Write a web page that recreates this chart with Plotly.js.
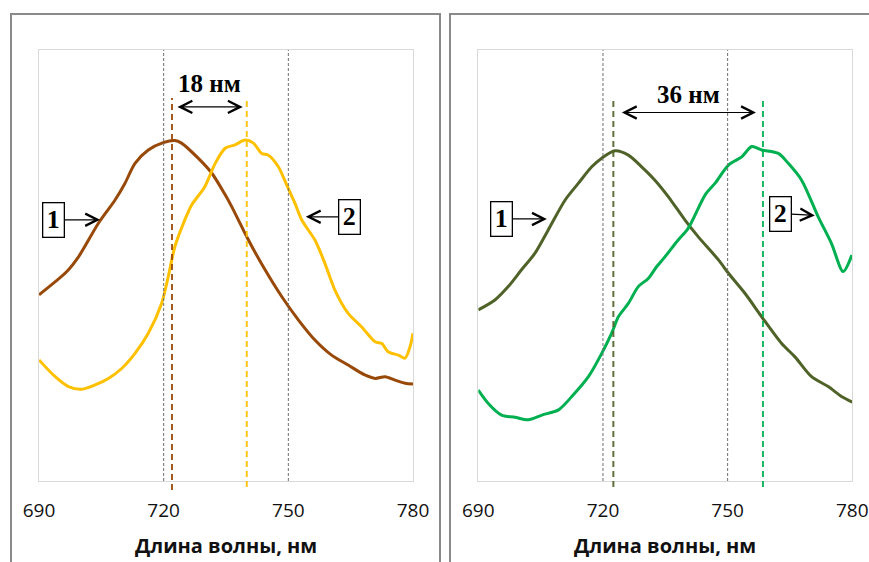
<!DOCTYPE html>
<html>
<head>
<meta charset="utf-8">
<script src="https://cdn.plot.ly/plotly-3.0.1.min.js"></script>
<style>
  html, body { margin: 0; padding: 0; background: #ffffff; }
  #chart { width: 869px; height: 562px; }
</style>
</head>
<body>
<div id="chart"></div>
<script>
// Wavelength axis
const xTicks = [690, 720, 750, 780];
const axisTitle = 'Длина волны, нм';

// Left panel: spectra 1 and 2 (relative intensity)
const leftWl1 = [690.0, 696.7, 699.5, 704.3, 708.3, 710.7, 713.1, 716.3, 719.9, 722.7, 724.3, 728.3, 731.6, 734.8, 736.4, 740.4, 744.4, 748.4, 752.4, 756.4, 760.4, 764.4, 768.4, 770.9, 773.3, 775.7, 778.1, 780.0];
const leftI1  = [43.2, 48.6, 52.0, 59.8, 65.2, 69.1, 73.7, 76.8, 78.5, 79.0, 78.4, 74.9, 71.4, 66.4, 63.6, 55.9, 49.0, 42.8, 37.4, 32.7, 29.2, 26.9, 24.6, 23.8, 24.2, 23.4, 22.7, 22.5];
const leftWl2 = [690.0, 693.9, 697.1, 700.3, 703.5, 706.7, 709.9, 713.1, 716.3, 719.5, 721.1, 722.7, 725.1, 726.7, 729.9, 732.4, 734.8, 737.2, 739.6, 741.6, 743.6, 745.2, 747.6, 749.6, 751.6, 753.2, 756.4, 758.8, 761.2, 764.4, 767.6, 770.9, 772.5, 774.0, 776.5, 778.1, 779.3, 780.0];
const leftI2  = [28.1, 24.2, 21.9, 21.3, 22.3, 23.8, 26.1, 29.6, 34.3, 41.2, 47.4, 54.4, 60.6, 64.0, 68.3, 73.7, 77.2, 78.0, 79.1, 78.4, 76.0, 75.6, 72.9, 68.7, 64.4, 60.6, 55.9, 50.5, 44.3, 38.9, 35.8, 32.3, 31.9, 30.0, 29.2, 28.5, 31.2, 34.3];

// Right panel: spectra 1 and 2 (relative intensity)
const rightWl1 = [690.0, 694.0, 697.2, 700.4, 703.6, 706.8, 710.9, 714.1, 717.3, 719.7, 722.9, 726.1, 729.3, 732.5, 735.7, 739.7, 742.9, 747.8, 750.2, 754.2, 758.2, 763.0, 766.2, 770.2, 774.2, 777.4, 780.0];
const rightI1  = [39.7, 42.0, 45.1, 49.0, 52.8, 58.2, 65.2, 69.1, 72.9, 74.9, 76.6, 75.6, 72.9, 69.8, 66.0, 60.6, 56.7, 51.3, 48.2, 43.5, 38.1, 31.9, 28.8, 24.2, 21.9, 19.6, 18.3];
const rightWl2 = [690.0, 692.4, 695.6, 698.8, 702.0, 705.3, 709.3, 712.5, 716.5, 719.7, 722.1, 723.7, 726.1, 728.5, 730.9, 732.9, 734.9, 738.1, 740.5, 744.6, 747.0, 750.2, 753.4, 755.8, 758.2, 762.2, 764.6, 767.8, 771.8, 775.0, 777.8, 779.9];
const rightI2  = [21.1, 18.0, 15.3, 14.8, 14.2, 15.3, 16.5, 19.6, 24.2, 29.6, 34.3, 38.1, 41.2, 45.1, 47.0, 49.7, 52.0, 55.9, 58.6, 66.4, 69.1, 73.3, 75.2, 77.6, 76.8, 76.0, 73.7, 69.8, 61.3, 55.1, 48.6, 52.4];

// Peak positions marked with dashed lines
const leftPeaks = [722, 740];
const rightPeaks = [722.5, 758.5];

// Colours
const cBrown = '#984807';
const cYellow = '#FFC000';
const cOlive = '#4F6228';
const cGreen = '#00B050';

const lineCurve = (c) => ({ color: c, width: 3, shape: 'spline', smoothing: 0.8 });

const traces = [
  { x: leftWl1, y: leftI1, type: 'scatter', mode: 'lines', line: lineCurve(cBrown), xaxis: 'x', yaxis: 'y', hoverinfo: 'skip' },
  { x: leftWl2, y: leftI2, type: 'scatter', mode: 'lines', line: lineCurve(cYellow), xaxis: 'x', yaxis: 'y', hoverinfo: 'skip' },
  { x: rightWl1, y: rightI1, type: 'scatter', mode: 'lines', line: lineCurve(cOlive), xaxis: 'x2', yaxis: 'y2', hoverinfo: 'skip' },
  { x: rightWl2, y: rightI2, type: 'scatter', mode: 'lines', line: lineCurve(cGreen), xaxis: 'x2', yaxis: 'y2', hoverinfo: 'skip' }
];

const W = 869, H = 562;
const plotTop = 1 - 50 / H, plotBottom = 1 - 481 / H;

const xAxisBase = {
  range: [690, 780],
  tickvals: xTicks,
  ticktext: xTicks.map(String),
  showgrid: false,
  zeroline: false,
  showline: true,
  mirror: true,
  linecolor: '#d9d9d9',
  linewidth: 1,
  ticks: '',
  ticklabelstandoff: 12,
  tickfont: { family: 'Open Sans, sans-serif', size: 19, color: '#111111' },
  automargin: false,
  fixedrange: true
};
const yAxisBase = {
  range: [0, 100],
  domain: [plotBottom, plotTop],
  showgrid: false,
  zeroline: false,
  showline: true,
  mirror: true,
  linecolor: '#d9d9d9',
  linewidth: 1,
  showticklabels: false,
  ticks: '',
  automargin: false,
  fixedrange: true
};

const shapes = [];
// Panel frames
shapes.push({ type: 'rect', xref: 'paper', yref: 'paper', x0: 11 / W, x1: 440 / W, y0: -0.05, y1: 1 - 14 / H,
  line: { color: '#8a8a8a', width: 2 }, fillcolor: 'rgba(0,0,0,0)', layer: 'below' });
shapes.push({ type: 'rect', xref: 'paper', yref: 'paper', x0: 450 / W, x1: 1.05, y0: -0.05, y1: 1 - 14 / H,
  line: { color: '#8a8a8a', width: 2 }, fillcolor: 'rgba(0,0,0,0)', layer: 'below' });

// Reference lines at 720 and 750 nm
[['x', 'y'], ['x2', 'y2']].forEach(([xr, yr]) => {
  [720, 750].forEach((v) => {
    shapes.push({ type: 'line', xref: xr, yref: yr, x0: v, x1: v, y0: 0, y1: 100,
      line: { color: '#6e6e6e', width: 1, dash: '3px,2px' } });
  });
});

// Peak markers
const peakLine = (xr, v, c, top, bottom) => ({
  type: 'line', xref: xr, yref: 'paper', x0: v, x1: v, y0: 1 - bottom / H, y1: 1 - top / H,
  line: { color: c, width: 2, dash: '6px,4px' }, opacity: 0.9
});
shapes.push(peakLine('x', leftPeaks[0], cBrown, 98, 490));
shapes.push(peakLine('x', leftPeaks[1], cYellow, 98, 487));
shapes.push(peakLine('x2', rightPeaks[0], cOlive, 97, 487));
shapes.push(peakLine('x2', rightPeaks[1], cGreen, 97, 487));

const serif = 'Liberation Serif, Times New Roman, serif';
const annotations = [];

// Peak shift labels and double arrows
const shiftL = leftPeaks[1] - leftPeaks[0];
const shiftR = rightPeaks[1] - rightPeaks[0];
annotations.push({ xref: 'x', yref: 'y', x: (leftPeaks[0] + leftPeaks[1]) / 2, y: 92.3,
  text: '<b>' + shiftL + ' нм</b>', showarrow: false, font: { family: serif, size: 25, color: '#000' } });
annotations.push({ xref: 'x', yref: 'y', axref: 'x', ayref: 'y', x: leftPeaks[1], y: 86.8, ax: leftPeaks[0], ay: 86.8,
  text: '', showarrow: true, arrowside: 'end+start', arrowhead: 5, startarrowhead: 5, arrowsize: 2, startarrowsize: 2,
  arrowwidth: 1.2, arrowcolor: '#000', standoff: 4, startstandoff: 4 });
annotations.push({ xref: 'x2', yref: 'y2', x: (rightPeaks[0] + rightPeaks[1]) / 2, y: 89.7,
  text: '<b>' + shiftR + ' нм</b>', showarrow: false, font: { family: serif, size: 25, color: '#000' } });
annotations.push({ xref: 'x2', yref: 'y2', axref: 'x2', ayref: 'y2', x: rightPeaks[1], y: 85.5, ax: rightPeaks[0], ay: 85.5,
  text: '', showarrow: true, arrowside: 'end+start', arrowhead: 5, startarrowhead: 5, arrowsize: 2, startarrowsize: 2,
  arrowwidth: 1.2, arrowcolor: '#000', standoff: 7, startstandoff: 7 });

// Boxed curve numbers with pointers
const tag = (xr, yr, label, x, y, ax, ay) => ({
  xref: xr, yref: yr, x: x, y: y, ax: ax, ay: ay, text: '<b>' + label + '</b>',
  showarrow: true, arrowhead: 5, arrowsize: 2, arrowwidth: 1.2, arrowcolor: '#000', standoff: 0,
  font: { family: serif, size: 26, color: '#000' },
  bordercolor: '#000', borderwidth: 1.3, borderpad: 1, bgcolor: '#fff', width: 18, height: 31
});
annotations.push(tag('x', 'y', '1', 704.7, 60.6, -46.5, 0));
annotations.push(tag('x', 'y', '2', 754.2, 61.3, 43.3, 0));
annotations.push(tag('x2', 'y2', '1', 706.5, 60.8, -45.4, 0));
annotations.push(tag('x2', 'y2', '2', 771.0, 61.6, -34.3, -2));

// Axis titles
['x', 'x2'].forEach((xr) => {
  annotations.push({ xref: xr + ' domain', yref: 'paper', x: 0.5, y: 1 - 545 / H, yanchor: 'middle',
    text: '<b>' + axisTitle + '</b>', showarrow: false,
    font: { family: 'Open Sans, sans-serif', size: 20, color: '#111111' } });
});

const layout = {
  width: W,
  height: H,
  margin: { l: 0, r: 0, t: 0, b: 0, pad: 0 },
  paper_bgcolor: '#ffffff',
  plot_bgcolor: '#ffffff',
  showlegend: false,
  xaxis: Object.assign({}, xAxisBase, { domain: [39 / W, 413 / W], anchor: 'y' }),
  yaxis: Object.assign({}, yAxisBase, { anchor: 'x' }),
  xaxis2: Object.assign({}, xAxisBase, { domain: [478.3 / W, 852.3 / W], anchor: 'y2' }),
  yaxis2: Object.assign({}, yAxisBase, { anchor: 'x2' }),
  shapes: shapes,
  annotations: annotations
};

Plotly.newPlot('chart', traces, layout, { displayModeBar: false, staticPlot: true });
</script>
</body>
</html>
